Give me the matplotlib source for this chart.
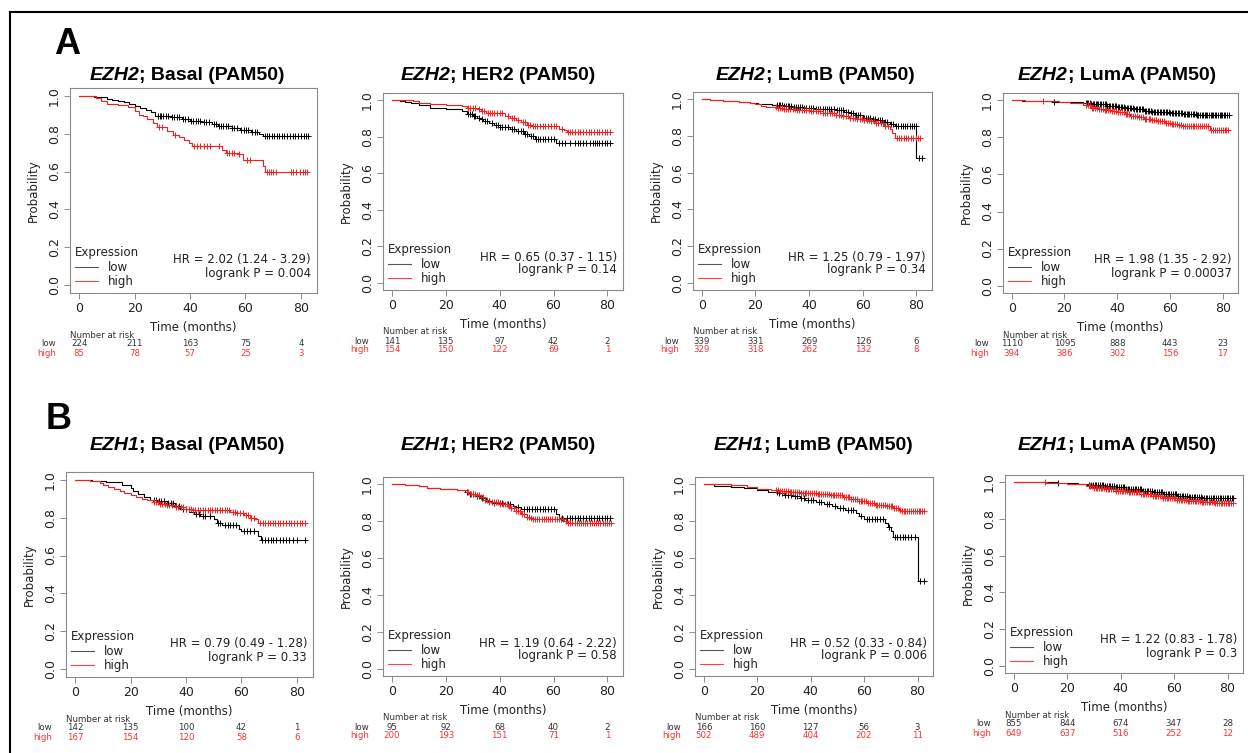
import numpy as np
import matplotlib
matplotlib.use("Agg")
import matplotlib.pyplot as plt
from matplotlib.lines import Line2D

plt.rcParams['font.family'] = ['DejaVu Sans']

W, H = 1248, 753
risk_times = [0, 20, 40, 60, 80]

# ---- A1: EZH2 Basal ----
a1_low_t = [5.5, 8, 10, 12, 14, 16, 18, 20, 22, 24, 26, 27.5, 33, 37, 40, 44, 48, 50, 55, 58, 62, 65, 66.5]
a1_low_s = [0.995, 0.99, 0.98, 0.975, 0.97, 0.965, 0.955, 0.945, 0.935, 0.925, 0.915, 0.895, 0.885, 0.875, 0.868, 0.86, 0.85, 0.84, 0.83, 0.82, 0.81, 0.80, 0.787]
a1_low_c = [28.3, 29, 29.6, 30.4, 31.2, 32, 33.5, 34.3, 35.2, 36, 37.5, 38.3, 39.1, 40.5, 41.2, 42, 42.8, 43.6, 45, 45.8,
            46.7, 48.5, 49.3, 50.5, 51.2, 52, 52.8, 53.7, 55.2, 56, 56.8, 58.4, 59.3, 60.2, 61, 62.5, 63.3, 64.1, 67, 67.8,
            68.6, 69.5, 70.3, 71.2, 72, 73, 74, 75, 76.2, 77, 78, 79, 80.2, 81, 82, 82.6]
a1_high_t = [6, 8, 10, 14, 17.5, 20, 21.5, 23, 24.5, 26.5, 28, 31.7, 34, 36, 37.7, 39.5, 40.7, 51.5, 53, 57.5, 59, 66.3, 67]
a1_high_s = [0.985, 0.97, 0.958, 0.948, 0.94, 0.92, 0.9, 0.89, 0.875, 0.855, 0.833, 0.812, 0.795, 0.782, 0.768, 0.75, 0.737,
             0.716, 0.70, 0.69, 0.663, 0.63, 0.596]
a1_high_c = [28.8, 29.8, 34.7, 41.5, 42.5, 43.5, 45, 46, 47.2, 50.5, 53.4, 54.2, 55, 56, 57.8, 60.5, 61.5, 67.8, 68.5, 69.3,
             70, 71, 76.3, 77, 78.2, 79.8, 80.6, 81.5, 82.2]
a1_risk_low = [224, 211, 163, 75, 4]
a1_risk_high = [85, 78, 57, 25, 3]

# ---- A2: EZH2 HER2 ----
a2_low_t = [3, 5, 7, 10, 14, 20, 24, 26, 28, 30, 31.5, 33, 34, 36, 38, 40, 44, 46, 49, 51, 53, 61]
a2_low_s = [0.995, 0.99, 0.985, 0.975, 0.96, 0.955, 0.95, 0.94, 0.925, 0.915, 0.905, 0.895, 0.885, 0.875, 0.865, 0.855,
            0.845, 0.83, 0.815, 0.805, 0.79, 0.768]
a2_low_c = [28.3, 29, 29.7, 30.5, 31, 32.2, 33.5, 34.5, 35.3, 37, 38.5, 39.3, 40.2, 41, 42, 43, 44.5, 45.5, 47, 47.8, 48.5,
            49.5, 50.3, 51.5, 52.3, 53.5, 54.3, 55, 56, 57, 58, 59, 60, 62, 63, 64.2, 66, 68, 69, 70, 70.8, 72, 73.5, 74.5,
            75.3, 76, 77, 78, 79, 80, 81]
a2_high_t = [8, 10, 14, 20, 26, 28, 32, 33, 35, 42, 44, 46, 48, 50, 52, 62, 64, 65]
a2_high_s = [0.995, 0.985, 0.98, 0.975, 0.97, 0.96, 0.95, 0.94, 0.93, 0.915, 0.905, 0.89, 0.88, 0.865, 0.857, 0.845, 0.835, 0.825]
a2_high_c = [28.2, 29, 30, 30.8, 32.5, 33.5, 34.3, 35.5, 36.3, 37.2, 38, 39, 40, 41, 43, 44.7, 45.5, 47, 48.5, 49.3, 50.5,
             51.3, 52.5, 53.3, 54, 55, 56, 57, 58, 59, 60, 61, 63, 65.5, 66.3, 67, 68, 69, 70, 71, 72, 73, 74, 75, 76, 77,
             78, 79, 80, 81]
a2_risk_low = [141, 135, 97, 42, 2]
a2_risk_high = [154, 150, 122, 69, 1]

# ---- A3: EZH2 LumB ----
a3_low_t = [3, 8, 14, 18, 21, 26, 30, 34, 38, 42, 46, 50, 53, 55, 57, 60, 63, 65, 68, 70, 72, 80]
a3_low_s = [0.995, 0.99, 0.985, 0.98, 0.975, 0.97, 0.965, 0.96, 0.955, 0.95, 0.945, 0.94, 0.93, 0.925, 0.915, 0.9, 0.895,
            0.887, 0.875, 0.865, 0.852, 0.68]
a3_low_c = [28, 28.6, 29.2, 29.9, 30.5, 31.3, 32, 32.6, 33.4, 34.2, 35, 35.7, 36.5, 37.4, 38.2, 39, 40, 40.8, 41.6, 42.5,
            43.3, 44.2, 45, 45.9, 46.6, 47.5, 48.3, 49.2, 50.2, 51, 51.8, 52.6, 53.6, 54.4, 55.5, 56.3, 57.3, 58.2, 59.1,
            60.3, 61.2, 62, 62.8, 63.7, 64.6, 65.5, 66.3, 67.2, 68.2, 69.1, 70.4, 71.3, 72.4, 73.3, 74.2, 75, 75.8, 76.6,
            77.5, 78.3, 79.1, 79.8, 81, 82]
a3_high_t = [3, 8, 14, 18, 20, 22, 24, 28, 30, 35, 40, 45, 50, 52, 55, 58, 60, 63, 65, 68, 70, 71, 72]
a3_high_s = [0.995, 0.99, 0.985, 0.98, 0.973, 0.965, 0.96, 0.951, 0.945, 0.94, 0.936, 0.928, 0.915, 0.908, 0.9, 0.893,
             0.887, 0.88, 0.872, 0.856, 0.836, 0.815, 0.79]
a3_high_c = [27.5, 28.3, 29, 29.8, 30.6, 31.4, 32.3, 33, 33.9, 34.8, 35.6, 36.4, 37.3, 38.1, 39, 39.9, 40.7, 41.5, 42.4,
             43.2, 44.1, 45, 45.8, 46.7, 47.6, 48.4, 49.3, 50.1, 51, 51.9, 52.8, 53.6, 54.5, 55.4, 56.2, 57.1, 58, 58.9,
             59.7, 60.6, 61.5, 62.4, 63.2, 64.1, 65, 65.8, 66.7, 67.5, 68.4, 69.3, 72.6, 73.5, 74.3, 75.2, 76.1, 77, 77.9,
             78.8, 79.7, 80.6, 81.5]
a3_risk_low = [339, 331, 269, 126, 6]
a3_risk_high = [329, 318, 262, 132, 8]

# ---- A4: EZH2 LumA ----
a4_low_t = [4, 10, 16, 20, 27, 30, 33, 36, 40, 43, 46, 50, 53, 56, 60, 65, 70]
a4_low_s = [0.998, 0.995, 0.993, 0.99, 0.985, 0.982, 0.978, 0.972, 0.964, 0.958, 0.952, 0.945, 0.94, 0.935, 0.93, 0.924, 0.92]
a4_low_c = [16, 28, 28.5, 29.1, 29.6, 30.2, 30.7, 31.3, 31.8, 32.4, 32.9, 33.5, 34, 34.6, 35.2, 35.7, 36.3, 36.8, 37.4,
            38, 38.5, 39.1, 39.7, 40.2, 40.8, 41.4, 41.9, 42.5, 43.1, 43.6, 44.2, 44.8, 45.3, 45.9, 46.5, 47, 47.6, 48.2,
            48.7, 49.3, 49.9, 50.4, 51, 51.6, 52.1, 52.7, 53.3, 53.8, 54.4, 55, 55.5, 56.1, 56.7, 57.2, 57.8, 58.4, 58.9,
            59.5, 60.1, 60.6, 61.2, 61.8, 62.3, 62.9, 63.5, 64, 64.6, 65.2, 65.7, 66.3, 66.9, 67.4, 68, 68.6, 69.1, 69.7,
            70.3, 70.8, 71.4, 72, 72.5, 73.1, 73.7, 74.2, 74.8, 75.4, 75.9, 76.5, 77.1, 77.6, 78.2, 78.8, 79.3, 79.9,
            80.5, 81, 81.6, 82.2]
a4_high_t = [5, 12, 18, 22, 27, 30, 33, 35, 38, 40, 43, 45, 48, 50, 53, 55, 58, 60, 63, 65, 75]
a4_high_s = [0.998, 0.995, 0.99, 0.985, 0.973, 0.96, 0.955, 0.95, 0.942, 0.936, 0.925, 0.918, 0.908, 0.9, 0.895, 0.89,
             0.88, 0.873, 0.865, 0.86, 0.842]
a4_high_c = [12, 28.2, 28.9, 29.5, 30.3, 31, 31.6, 32.4, 33.1, 33.8, 34.5, 35.2, 35.9, 36.7, 37.4, 38.1, 38.8, 39.5, 40.3,
             41, 41.7, 42.4, 43.2, 43.9, 44.6, 45.3, 46.1, 46.8, 47.5, 48.2, 49, 49.7, 50.4, 51.1, 51.9, 52.6, 53.3,
             54, 54.8, 55.5, 56.2, 57, 57.7, 58.4, 59.1, 59.9, 60.6, 61.3, 62, 62.8, 63.5, 64.2, 65, 65.7, 66.4, 67.1,
             67.9, 68.6, 69.3, 70, 70.8, 71.5, 72.2, 73, 73.7, 74.4, 75.6, 76.3, 77, 77.8, 78.5, 79.2, 80, 80.7, 81.4, 82.1]
a4_risk_low = [1110, 1095, 888, 443, 23]
a4_risk_high = [394, 386, 302, 156, 17]

# ---- B1: EZH1 Basal ----
b1_low_t = [6, 7, 11, 17, 20, 21, 22.5, 25, 27, 30, 33, 36, 38, 41, 43, 45, 50, 51, 53, 59, 60, 66, 67]
b1_low_s = [0.995, 0.99, 0.985, 0.97, 0.955, 0.94, 0.925, 0.91, 0.895, 0.885, 0.875, 0.86, 0.845, 0.83, 0.82, 0.81, 0.79,
            0.77, 0.76, 0.74, 0.73, 0.705, 0.68]
b1_low_c = [28.5, 29.3, 30.2, 31, 32, 33.5, 34.4, 35.2, 36.5, 37.4, 39, 40, 43.5, 44.5, 46, 47, 48.5, 51.5, 52.2, 54, 55,
            56, 57, 58, 61, 62, 63, 64.5, 67.5, 68.5, 69.5, 70.5, 71.5, 72.5, 74, 75, 76, 77, 78.5, 80, 83]
b1_high_t = [5.5, 7, 9, 10, 12, 14, 16, 17.5, 20, 22, 24, 26, 28, 30, 33, 36, 40, 42, 56, 58, 61, 63, 65, 66]
b1_high_s = [0.995, 0.99, 0.98, 0.97, 0.96, 0.95, 0.94, 0.93, 0.92, 0.91, 0.9, 0.89, 0.88, 0.87, 0.865, 0.855, 0.845,
             0.84, 0.83, 0.825, 0.815, 0.8, 0.79, 0.772]
b1_high_c = [28.3, 29, 29.8, 30.6, 31.4, 32.3, 33.2, 34, 35, 36.3, 37.2, 38.1, 39, 40, 40.9, 41.8, 42.6, 43.4, 44.3, 45.2,
             46, 46.9, 47.8, 48.6, 49.5, 50.4, 51.3, 52.1, 53, 53.9, 54.7, 55.5, 56.8, 57.6, 58.5, 59.5, 60.4, 61.5,
             62.4, 63.5, 64.5, 66.8, 67.6, 68.5, 69.4, 70.3, 71.2, 72.1, 73, 74, 75, 76, 77, 78, 79, 80, 81, 82, 83]
b1_risk_low = [142, 135, 100, 42, 1]
b1_risk_high = [167, 154, 120, 58, 6]

# ---- B2: EZH1 HER2 ----
b2_low_t = [5, 7, 10, 13, 18, 24, 27, 28.5, 31, 33, 35, 37, 42, 45, 46, 48, 61, 62]
b2_low_s = [0.998, 0.995, 0.99, 0.98, 0.975, 0.97, 0.96, 0.95, 0.935, 0.925, 0.91, 0.9, 0.895, 0.885, 0.875, 0.865, 0.84, 0.815]
b2_low_c = [28, 29, 30, 31.5, 32.5, 33.5, 36, 38, 40, 41, 43, 44, 47, 49, 50, 51, 52, 53, 54, 55, 56, 57, 58, 59, 60, 63,
            65, 66, 67, 68, 69, 70, 71, 72, 73, 74, 75, 76, 77, 78, 79, 80, 81]
b2_high_t = [5, 7, 10, 13, 18, 24, 28, 29, 31, 32.5, 34, 36, 40, 43, 44, 46, 48, 50, 51, 52, 64, 65]
b2_high_s = [0.998, 0.995, 0.99, 0.98, 0.975, 0.97, 0.96, 0.95, 0.94, 0.93, 0.915, 0.905, 0.895, 0.885, 0.87, 0.855,
             0.84, 0.825, 0.815, 0.81, 0.8, 0.792]
b2_high_c = [28.4, 29.2, 30, 30.7, 31.5, 32.3, 33, 33.8, 34.6, 35.4, 36.2, 37, 37.8, 38.6, 39.4, 40.3, 41.1, 41.9, 42.7,
             43.5, 44.4, 45.2, 46, 46.8, 47.6, 48.4, 49.2, 50, 50.8, 51.6, 52.4, 53.2, 54, 54.8, 55.6, 56.4, 57.2, 58,
             58.8, 59.6, 60.4, 61.2, 62, 62.8, 63.6, 64.5, 65.4, 66.2, 67, 67.8, 68.6, 69.4, 70.2, 71, 71.8, 72.6, 73.4,
             74.2, 75, 75.8, 76.6, 77.4, 78.2, 79, 79.8, 80.6, 81.2]
b2_risk_low = [95, 92, 68, 40, 2]
b2_risk_high = [200, 193, 151, 71, 1]

# ---- B3: EZH1 LumB ----
b3_low_t = [4, 10, 15, 20, 24, 28, 30, 33, 36, 38, 42, 45, 48, 50, 53, 57, 58, 60, 68, 69, 70, 71, 80]
b3_low_s = [0.99, 0.985, 0.98, 0.97, 0.96, 0.955, 0.945, 0.935, 0.925, 0.915, 0.905, 0.895, 0.885, 0.87, 0.86, 0.845,
            0.83, 0.81, 0.79, 0.77, 0.745, 0.715, 0.475]
b3_low_c = [27.5, 28.3, 29.2, 30.5, 31.5, 32.5, 34, 35, 36.5, 37.5, 39, 40, 41, 43, 44, 46, 47, 49, 51, 52, 54, 55, 56,
            59, 61, 62, 63, 64, 65, 66, 67, 69.5, 71.5, 72.5, 73.5, 74.5, 75.5, 76.5, 77.5, 79, 81, 82.5]
b3_high_t = [10, 16, 20, 25, 28, 32, 36, 42, 47, 52, 55, 58, 61, 64, 68, 71, 73, 74]
b3_high_s = [0.995, 0.985, 0.975, 0.97, 0.965, 0.96, 0.955, 0.95, 0.94, 0.93, 0.92, 0.91, 0.9, 0.89, 0.88, 0.87, 0.86, 0.855]
b3_high_c = [27.2, 27.9, 28.6, 29.3, 30, 30.7, 31.4, 32.1, 32.8, 33.5, 34.2, 34.9, 35.6, 36.3, 37, 37.7, 38.4, 39.1,
             39.8, 40.5, 41.2, 41.9, 42.6, 43.3, 44, 44.7, 45.4, 46.1, 46.8, 47.5, 48.2, 48.9, 49.6, 50.3, 51, 51.7,
             52.4, 53.1, 53.8, 54.5, 55.2, 55.9, 56.6, 57.3, 58, 58.7, 59.4, 60.1, 60.8, 61.5, 62.2, 62.9, 63.6, 64.3,
             65, 65.7, 66.4, 67.1, 67.8, 68.5, 69.2, 69.9, 70.6, 71.3, 72, 72.7, 73.4, 74.1, 74.8, 75.5, 76.2, 76.9,
             77.6, 78.3, 79, 79.7, 80.4, 81.1, 81.8, 82.6]
b3_risk_low = [166, 160, 127, 56, 3]
b3_risk_high = [502, 489, 404, 202, 11]

# ---- B4: EZH1 LumA ----
b4_low_t = [16, 24, 28, 34, 38, 42, 48, 52, 56, 61, 65, 70]
b4_low_s = [0.995, 0.99, 0.985, 0.98, 0.975, 0.965, 0.955, 0.945, 0.935, 0.925, 0.92, 0.913]
b4_low_c = [16.5, 28.3, 29, 29.6, 30.3, 30.9, 31.6, 32.2, 32.9, 33.5, 34.2, 34.8, 35.5, 36.1, 36.8, 37.4, 38.1, 38.7,
            39.4, 40, 40.7, 41.3, 42, 42.6, 43.3, 43.9, 44.6, 45.2, 45.9, 46.5, 47.2, 47.8, 48.5, 49.1, 49.8, 50.4,
            51.1, 51.7, 52.4, 53, 53.7, 54.3, 55, 55.6, 56.3, 56.9, 57.6, 58.2, 58.9, 59.5, 60.2, 60.8, 61.5, 62.1,
            62.8, 63.4, 64.1, 64.7, 65.4, 66, 66.7, 67.3, 68, 68.6, 69.3, 69.9, 70.6, 71.2, 71.9, 72.5, 73.2, 73.8,
            74.5, 75.1, 75.8, 76.4, 77.1, 77.7, 78.4, 79, 79.7, 80.3, 81, 81.6, 82.2]
b4_high_t = [12, 20, 27, 30, 34, 38, 43, 47, 52, 56, 61, 65, 70, 75]
b4_high_s = [0.995, 0.99, 0.98, 0.97, 0.965, 0.955, 0.945, 0.935, 0.925, 0.915, 0.905, 0.9, 0.895, 0.888]
b4_high_c = [11.5, 28, 28.7, 29.3, 30, 30.6, 31.3, 31.9, 32.6, 33.2, 33.9, 34.5, 35.2, 35.8, 36.5, 37.1, 37.8, 38.4,
             39.1, 39.7, 40.4, 41, 41.7, 42.3, 43, 43.6, 44.3, 44.9, 45.6, 46.2, 46.9, 47.5, 48.2, 48.8, 49.5, 50.1,
             50.8, 51.4, 52.1, 52.7, 53.4, 54, 54.7, 55.3, 56, 56.6, 57.3, 57.9, 58.6, 59.2, 59.9, 60.5, 61.2, 61.8,
             62.5, 63.1, 63.8, 64.4, 65.1, 65.7, 66.4, 67, 67.7, 68.3, 69, 69.6, 70.3, 70.9, 71.6, 72.2, 72.9, 73.5,
             74.2, 74.8, 75.5, 76.1, 76.8, 77.4, 78.1, 78.7, 79.4, 80, 80.7, 81.3, 82]
b4_risk_low = [855, 844, 674, 347, 28]
b4_risk_high = [649, 637, 516, 252, 12]

# panel boxes in pixels: left, top, right, bottom ; title centre
boxes = [(70, 88, 317, 293), (383, 93, 623, 290), (693, 92, 932, 290), (1003, 93, 1238, 293),
         (66, 472, 313, 677), (383, 477, 623, 676), (695, 477, 933, 676), (1005, 475, 1243, 673)]
title_pos = [(187, 80), (498, 80), (815, 80), (1117, 80), (187, 450), (498, 450), (813, 450), (1117, 450)]

fig = plt.figure(figsize=(W / 100, H / 100), dpi=100)
renderer = fig.canvas.get_renderer()
PX = 0.72  # px -> points at 100 dpi


def km(ax, t, s, c, color):
    t = np.asarray(t, float)
    s = np.asarray(s, float)
    c = np.asarray(c, float)
    xs = np.r_[0, t, c.max()]
    ys = np.r_[1.0, s, s[-1]]
    ax.step(xs, ys, where='post', color=color, lw=0.8)
    cy = np.r_[1.0, s][np.searchsorted(t, c, side='right')]
    ax.plot(c, cy, ls='none', marker='+', ms=4, mew=0.7, color=color)


def title(i, gene, subtype):
    # gene name bold italic, rest bold, centred together
    tx, ty = title_pos[i]
    kw = dict(family='Liberation Sans', weight='bold', fontsize=14, ha='left', va='baseline')
    t1 = fig.text(0, 1 - ty / H, gene, style='italic', **kw)
    t2 = fig.text(0, 1 - ty / H, '; %s (PAM50)' % subtype, **kw)
    w1 = t1.get_window_extent(renderer).width
    w2 = t2.get_window_extent(renderer).width
    x0 = tx - (w1 + w2) / 2
    t1.set_x(x0 / W)
    t2.set_x((x0 + w1) / W)


def panel(i, gene, subtype, low, high, hr, p, r_low, r_high):
    l, t, r, b = boxes[i]
    ax = fig.add_axes([l / W, 1 - b / H, (r - l) / W, (b - t) / H])
    km(ax, *low, 'black')
    km(ax, *high, '#ff1a1a')
    ax.set_xlim(-3.3, 85.8)
    ax.set_ylim(-0.04, 1.04)
    ax.set_xticks(risk_times)
    yt = [0, 0.2, 0.4, 0.6, 0.8, 1.0]
    ax.set_yticks(yt)
    ax.set_yticklabels(['%.1f' % v for v in yt], rotation=90, va='center')
    for sp in ax.spines.values():
        sp.set_color('#8a8a8a')
        sp.set_linewidth(0.8)
    ax.tick_params(direction='out', length=4, width=0.7, color='#8a8a8a',
                   labelsize=9, labelcolor='#222222', pad=2.5)
    ax.set_xlabel('Time (months)', fontsize=8.5, color='#222222', labelpad=4)
    ax.set_ylabel('Probability', fontsize=8.5, color='#222222', labelpad=6)

    leg = ax.legend(handles=[Line2D([], [], color='#555555', lw=0.8),
                             Line2D([], [], color='#ff4040', lw=0.8)],
                    labels=['low', 'high'], title='Expression', loc='lower left',
                    frameon=False, alignment='left', fontsize=8.5, title_fontsize=8.5,
                    borderaxespad=0.2, borderpad=0.2, labelspacing=0.12,
                    handlelength=2.0, handletextpad=0.8)
    for txt in leg.get_texts():
        txt.set_color('#222222')
    leg.get_title().set_color('#222222')

    ax.annotate(hr, xy=(1, 0), xycoords='axes fraction', xytext=(-6 * PX, 33 * PX),
                textcoords='offset points', ha='right', va='center', fontsize=8.5, color='#222222')
    ax.annotate(p, xy=(1, 0), xycoords='axes fraction', xytext=(-6 * PX, 20 * PX),
                textcoords='offset points', ha='right', va='center', fontsize=8.5, color='#222222')

    # number at risk table
    ax.annotate('Number at risk', xy=(0, 0), xycoords='axes fraction', xytext=(0, -42 * PX),
                textcoords='offset points', ha='left', va='center', fontsize=6.2, color='#333333')
    ax.annotate('low', xy=(0, 0), xycoords='axes fraction', xytext=(-14 * PX, -51 * PX),
                textcoords='offset points', ha='right', va='center', fontsize=6.2, color='#333333')
    ax.annotate('high', xy=(0, 0), xycoords='axes fraction', xytext=(-14 * PX, -60 * PX),
                textcoords='offset points', ha='right', va='center', fontsize=6.2, color='#ff3030')
    for x, nl, nh in zip(risk_times, r_low, r_high):
        ax.annotate(str(nl), xy=(x, 0), xycoords=('data', 'axes fraction'), xytext=(0, -51 * PX),
                    textcoords='offset points', ha='center', va='center', fontsize=6.2, color='#333333')
        ax.annotate(str(nh), xy=(x, 0), xycoords=('data', 'axes fraction'), xytext=(0, -60 * PX),
                    textcoords='offset points', ha='center', va='center', fontsize=6.2, color='#ff3030')

    title(i, gene, subtype)
    return ax


panel(0, 'EZH2', 'Basal', (a1_low_t, a1_low_s, a1_low_c), (a1_high_t, a1_high_s, a1_high_c),
      'HR = 2.02 (1.24 - 3.29)', 'logrank P = 0.004', a1_risk_low, a1_risk_high)
panel(1, 'EZH2', 'HER2', (a2_low_t, a2_low_s, a2_low_c), (a2_high_t, a2_high_s, a2_high_c),
      'HR = 0.65 (0.37 - 1.15)', 'logrank P = 0.14', a2_risk_low, a2_risk_high)
panel(2, 'EZH2', 'LumB', (a3_low_t, a3_low_s, a3_low_c), (a3_high_t, a3_high_s, a3_high_c),
      'HR = 1.25 (0.79 - 1.97)', 'logrank P = 0.34', a3_risk_low, a3_risk_high)
panel(3, 'EZH2', 'LumA', (a4_low_t, a4_low_s, a4_low_c), (a4_high_t, a4_high_s, a4_high_c),
      'HR = 1.98 (1.35 - 2.92)', 'logrank P = 0.00037', a4_risk_low, a4_risk_high)
panel(4, 'EZH1', 'Basal', (b1_low_t, b1_low_s, b1_low_c), (b1_high_t, b1_high_s, b1_high_c),
      'HR = 0.79 (0.49 - 1.28)', 'logrank P = 0.33', b1_risk_low, b1_risk_high)
panel(5, 'EZH1', 'HER2', (b2_low_t, b2_low_s, b2_low_c), (b2_high_t, b2_high_s, b2_high_c),
      'HR = 1.19 (0.64 - 2.22)', 'logrank P = 0.58', b2_risk_low, b2_risk_high)
panel(6, 'EZH1', 'LumB', (b3_low_t, b3_low_s, b3_low_c), (b3_high_t, b3_high_s, b3_high_c),
      'HR = 0.52 (0.33 - 0.84)', 'logrank P = 0.006', b3_risk_low, b3_risk_high)
panel(7, 'EZH1', 'LumA', (b4_low_t, b4_low_s, b4_low_c), (b4_high_t, b4_high_s, b4_high_c),
      'HR = 1.22 (0.83 - 1.78)', 'logrank P = 0.3', b4_risk_low, b4_risk_high)

# panel letters and frame
fig.text(67 / W, 1 - 45 / H, 'A', family='Liberation Sans', weight='bold', fontsize=26, ha='center', va='center')
fig.text(59 / W, 1 - 420 / H, 'B', family='Liberation Sans', weight='bold', fontsize=26, ha='center', va='center')
fig.add_artist(Line2D([10 / W, 1], [1 - 12 / H, 1 - 12 / H], transform=fig.transFigure, color='black', lw=1.5))
fig.add_artist(Line2D([10 / W, 10 / W], [0, 1 - 12 / H], transform=fig.transFigure, color='black', lw=1.5))

fig.savefig('out.png', dpi=100)
